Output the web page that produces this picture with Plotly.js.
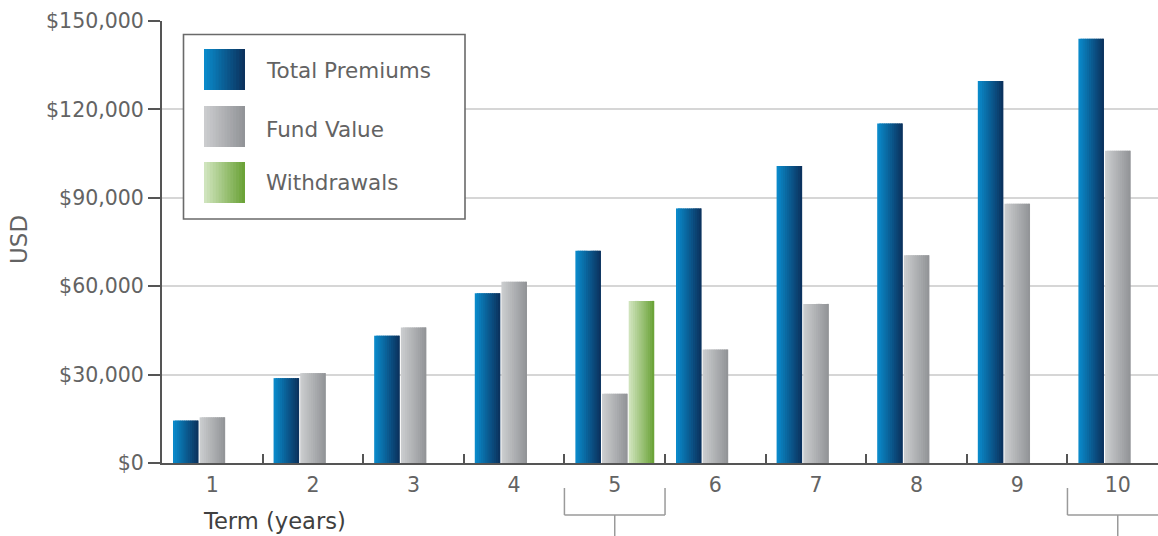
<!DOCTYPE html>
<html>
<head>
<meta charset="utf-8">
<script src="https://cdn.plot.ly/plotly-3.0.1.min.js"></script>
<style>html,body{margin:0;padding:0;background:#fff;}#chart{width:1158px;height:536px;}</style>
</head>
<body>
<div id="chart"></div>
<script>
// ---- data ----
const terms = ['1','2','3','4','5','6','7','8','9','10'];
const totalPremiums = [14400, 28800, 43200, 57600, 72000, 86400, 100800, 115200, 129600, 144000];
const fundValue = [15500, 30500, 46000, 61500, 23500, 38500, 54000, 70500, 88000, 106000];
const withdrawals = [null, null, null, null, 55000, null, null, null, null, null];
const seriesNames = ['Total Premiums', 'Fund Value', 'Withdrawals'];
const yTickVals = [0, 30000, 60000, 90000, 120000, 150000];
const yTickText = ['$0', '$30,000', '$60,000', '$90,000', '$120,000', '$150,000'];

// ---- style ----
const gradients = [
  ['#0a8dce', '#0b2f5a'],
  ['#cdced0', '#909296'],
  ['#d3e6c2', '#68a133']
];
const FONT = '"DejaVu Sans", "Liberation Sans", sans-serif';
const TXT = '#636363';
const NS = 12;              // slices per bar to imitate gradient
const groupLeft = -0.391;   // category units
const step = 0.265;
const barW = 0.254;

function hex(c){return [parseInt(c.slice(1,3),16),parseInt(c.slice(3,5),16),parseInt(c.slice(5,7),16)];}
function mix(a,b,t){const A=hex(a),B=hex(b);return 'rgb('+A.map((v,i)=>Math.round(v+(B[i]-v)*t)).join(',')+')';}

const seriesData = [totalPremiums, fundValue, withdrawals];
const traces = [];
seriesData.forEach((vals, s) => {
  const sw = barW / NS;
  for (let j = 0; j < NS; j++) {
    const last = j === NS - 1;
    traces.push({
      type: 'bar', x: terms, y: vals, name: seriesNames[s],
      showlegend: false, hoverinfo: j === 0 ? 'x+y+name' : 'skip',
      width: last ? sw : sw * 1.8, offset: groupLeft + s * step + j * sw,
      marker: {color: mix(gradients[s][0], gradients[s][1], (j + 0.5) / NS), line: {width: 0}}
    });
  }
});

// plot geometry (px) for paper conversion of decorations
const L = 162, T = 21, W = 1158 - 162, H = 463 - 21;
const px = x => (x - L) / W;
const py = y => (463 - y) / H;

const shapes = [];
// legend box
shapes.push({type:'rect', xref:'paper', yref:'paper', x0:px(183.5), x1:px(465), y0:py(219), y1:py(34.5),
  fillcolor:'#ffffff', line:{color:'#6a6a6a', width:1.6}, layer:'above'});
const swY = [[49,90],[106,147],[162,203]];
swY.forEach((yy, s) => {
  const x0 = 204, x1 = 245, n = 14, w = (x1 - x0) / n;
  for (let j = 0; j < n; j++) {
    shapes.push({type:'rect', xref:'paper', yref:'paper', x0:px(x0 + j*w), x1:px(x0 + (j+1)*w + (j < n-1 ? 0.8 : 0)),
      y0:py(yy[1]), y1:py(yy[0]), fillcolor: mix(gradients[s][0], gradients[s][1], (j+0.5)/n),
      line:{width:0}, layer:'above'});
  }
});
// brackets under categories 5 and 10
const brC = '#9a9a9a';
function bracket(a, b, c) {
  const yTop = py(488), yMid = py(515), yBot = py(540);
  shapes.push({type:'line', xref:'x', yref:'paper', x0:a, x1:a, y0:yTop, y1:yMid, line:{color:brC, width:1.5}});
  shapes.push({type:'line', xref:'x', yref:'paper', x0:b, x1:b, y0:yTop, y1:yMid, line:{color:brC, width:1.5}});
  shapes.push({type:'line', xref:'x', yref:'paper', x0:a, x1:b, y0:yMid, y1:yMid, line:{color:brC, width:1.5}});
  shapes.push({type:'line', xref:'x', yref:'paper', x0:c, x1:c, y0:yMid, y1:yBot, line:{color:brC, width:1.5}});
}
bracket(3.5, 4.5, 4);
bracket(8.5, 9.9, 9);

const annotations = [];
seriesNames.forEach((n, s) => {
  annotations.push({xref:'paper', yref:'paper', x:px(264), y:py([70,129,182][s]), xanchor:'left', yanchor:'middle',
    text:n, showarrow:false, font:{family:FONT, size:21.5, color:TXT}});
});
annotations.push({xref:'paper', yref:'paper', x:px(201), y:py(521), xanchor:'left', yanchor:'middle',
  text:'Term (years)', showarrow:false, font:{family:FONT, size:22.6, color:'#404040'}});
annotations.push({xref:'paper', yref:'paper', x:px(19), y:py(240), xanchor:'center', yanchor:'middle',
  text:'USD', textangle:-90, showarrow:false, font:{family:FONT, size:23, color:TXT}});

const tickFont = {family: FONT, size: 20.5, color: TXT};
const layout = {
  width: 1158, height: 536,
  margin: {l: L, r: 0, t: T, b: 536 - 463},
  paper_bgcolor: '#ffffff', plot_bgcolor: '#ffffff',
  barmode: 'overlay', showlegend: false,
  font: {family: FONT, color: TXT, size: 20},
  xaxis: {
    type: 'category', categoryorder: 'array', categoryarray: terms,
    range: [-0.5, 9.4], showgrid: false, zeroline: false,
    showline: true, linecolor: '#555555', linewidth: 2,
    ticks: 'inside', tickson: 'boundaries', ticklen: 9, tickwidth: 2, tickcolor: '#555555',
    ticklabelstandoff: 2,
    tickfont: tickFont, fixedrange: true
  },
  yaxis: {
    range: [0, 150000], tickmode: 'array', tickvals: yTickVals, ticktext: yTickText,
    showgrid: true, gridcolor: '#d6d6d6', gridwidth: 2, zeroline: false,
    showline: true, linecolor: '#555555', linewidth: 2,
    ticks: 'outside', ticklen: 12, tickwidth: 2, tickcolor: '#555555',
    tickfont: tickFont, fixedrange: true
  },
  shapes: shapes, annotations: annotations
};

Plotly.newPlot('chart', traces, layout, {displayModeBar: false, staticPlot: true});
</script>
</body>
</html>
